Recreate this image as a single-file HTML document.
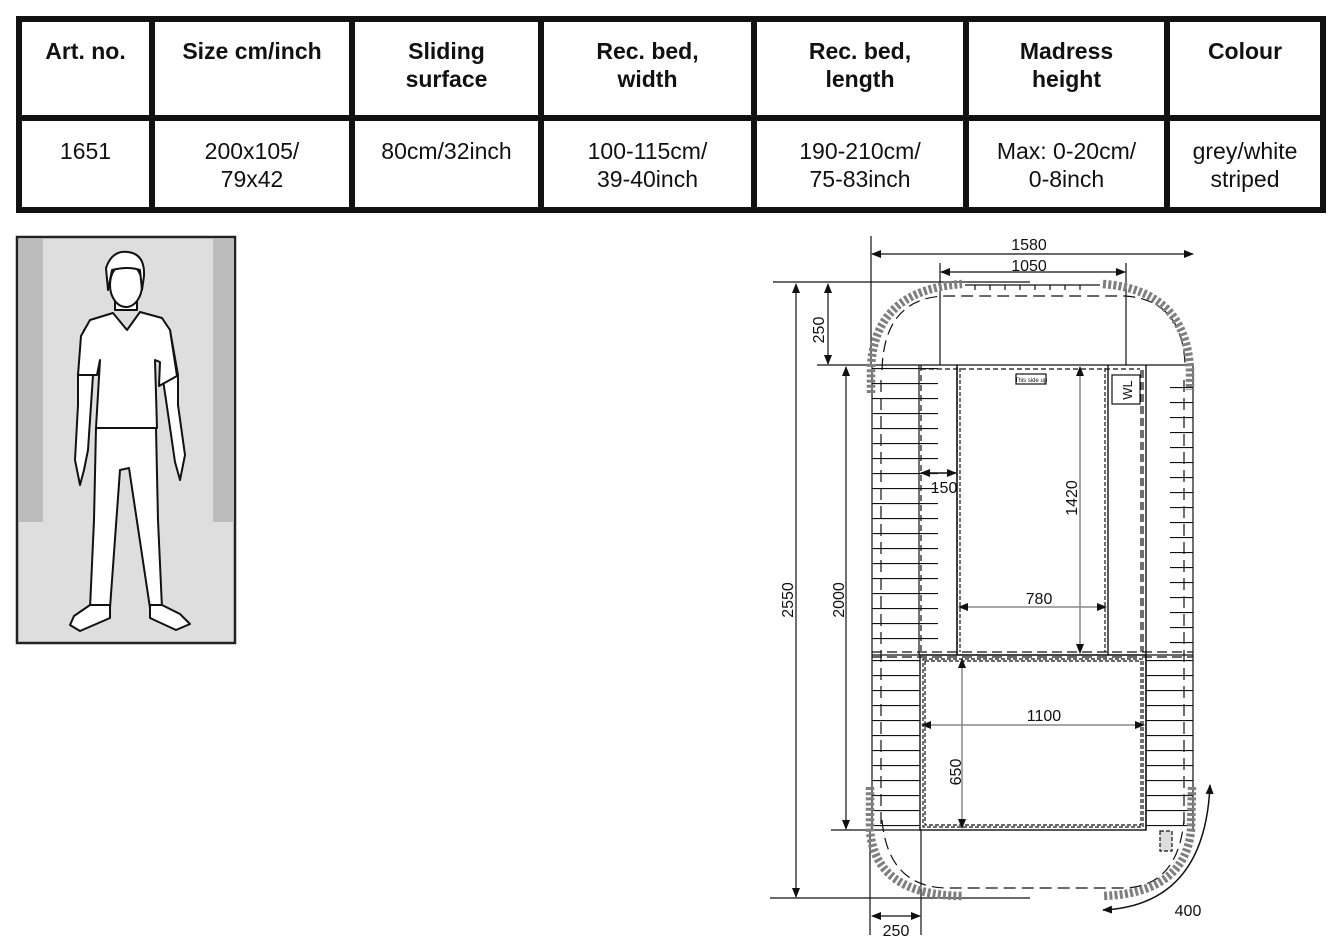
<!DOCTYPE html>
<html><head><meta charset="utf-8"><style>
html,body{margin:0;padding:0;background:#fff;}
body{width:1343px;height:948px;position:relative;overflow:hidden;font-family:"Liberation Sans",Arial,sans-serif;}
.b{position:absolute;background:#111;}
.c{position:absolute;text-align:center;font-size:23px;line-height:28px;color:#111;}
.h{font-weight:bold;}
</style></head><body>
<div class="b" style="left:16px;top:16px;width:1310px;height:6px"></div>
<div class="b" style="left:16px;top:115px;width:1310px;height:6px"></div>
<div class="b" style="left:16px;top:207px;width:1310px;height:6px"></div>
<div class="b" style="left:16px;top:16px;width:6px;height:197px"></div>
<div class="b" style="left:1320px;top:16px;width:6px;height:197px"></div>
<div class="b" style="left:149px;top:16px;width:6px;height:197px"></div>
<div class="b" style="left:349px;top:16px;width:6px;height:197px"></div>
<div class="b" style="left:538px;top:16px;width:6px;height:197px"></div>
<div class="b" style="left:751px;top:16px;width:6px;height:197px"></div>
<div class="b" style="left:963px;top:16px;width:6px;height:197px"></div>
<div class="b" style="left:1164px;top:16px;width:6px;height:197px"></div>

<div class="c h" style="left:22px;width:127px;top:37px">Art. no.</div>
<div class="c h" style="left:155px;width:194px;top:37px">Size cm/inch</div>
<div class="c h" style="left:355px;width:183px;top:37px">Sliding<br>surface</div>
<div class="c h" style="left:544px;width:207px;top:37px">Rec. bed,<br>width</div>
<div class="c h" style="left:757px;width:206px;top:37px">Rec. bed,<br>length</div>
<div class="c h" style="left:969px;width:195px;top:37px">Madress<br>height</div>
<div class="c h" style="left:1170px;width:150px;top:37px">Colour</div>

<div class="c" style="left:22px;width:127px;top:137px">1651</div>
<div class="c" style="left:155px;width:194px;top:137px">200x105/<br>79x42</div>
<div class="c" style="left:355px;width:183px;top:137px">80cm/32inch</div>
<div class="c" style="left:544px;width:207px;top:137px">100-115cm/<br>39-40inch</div>
<div class="c" style="left:757px;width:206px;top:137px">190-210cm/<br>75-83inch</div>
<div class="c" style="left:969px;width:195px;top:137px">Max: 0-20cm/<br>0-8inch</div>
<div class="c" style="left:1170px;width:150px;top:137px">grey/white<br>striped</div>

<svg width="1343" height="948" style="position:absolute;left:0;top:0" xmlns="http://www.w3.org/2000/svg">
<defs>
<marker id="a" markerWidth="10" markerHeight="8" refX="9" refY="4" orient="auto-start-reverse" markerUnits="userSpaceOnUse"><path d="M0,0 L10,4 L0,8 z" fill="#111"/></marker>
<pattern id="hl" width="200" height="15" patternUnits="userSpaceOnUse" y="368"><line x1="0" y1="0.5" x2="200" y2="0.5" stroke="#111" stroke-width="1.3"/></pattern>
<pattern id="hl2" width="200" height="15" patternUnits="userSpaceOnUse" y="660"><line x1="0" y1="0.5" x2="200" y2="0.5" stroke="#111" stroke-width="1.3"/></pattern>
</defs>
<rect x="17" y="237" width="218" height="406" fill="#dedede" stroke="#222" stroke-width="2.5"/>
<rect x="19" y="239" width="24" height="283" fill="#bcbcbc"/>
<rect x="213" y="239" width="21" height="283" fill="#bcbcbc"/>
<g fill="#fff" stroke="#111" stroke-width="2" stroke-linejoin="round">
<path d="M115,310 L115,300 L137,300 L137,310 Z"/>
<path d="M96,428 L156,428 L158,520 L162,608 L150,608 L129,468 L120,470 L110,608 L90,608 L94,520 Z"/>
<path d="M90,605 L110,605 L110,618 L80,631 L70,625 L74,616 Z"/>
<path d="M150,605 L162,605 L180,614 L190,624 L176,630 L150,618 Z"/>
<path d="M84,330 L78,375 L78,405 L75,460 L80,485 L84,470 L88,450 L93,375 Z"/>
<path d="M170,330 L178,375 L178,405 L185,455 L180,480 L175,462 L166,400 L160,360 Z"/>
<path d="M113,313 L90,320 L81,336 L78,375 L97,375 L100,360 L96,428 L157,428 L155,360 L160,362 L159,386 L177,376 L170,330 L162,318 L140,312 L127,330 Z"/>
<ellipse cx="126" cy="285" rx="16" ry="22"/>
<path d="M108,290 L106,268 Q112,250 128,252 Q145,254 144,276 L142,290 L140,270 Q128,266 112,270 Z"/>
</g>

<g stroke="#111" fill="none" stroke-width="1.2">
<line x1="871" y1="236" x2="871" y2="365"/>
<line x1="872" y1="254" x2="1193" y2="254" marker-start="url(#a)" marker-end="url(#a)"/>
<line x1="940" y1="263" x2="940" y2="365"/>
<line x1="1126" y1="263" x2="1126" y2="365"/>
<line x1="941" y1="272" x2="1125" y2="272" marker-start="url(#a)" marker-end="url(#a)"/>
<line x1="773" y1="282" x2="1030" y2="282"/>
<line x1="817" y1="365" x2="1193" y2="365"/>
<line x1="828" y1="284" x2="828" y2="364" marker-start="url(#a)" marker-end="url(#a)"/>
<line x1="796" y1="284" x2="796" y2="897" marker-start="url(#a)" marker-end="url(#a)"/>
<line x1="846" y1="367" x2="846" y2="829" marker-start="url(#a)" marker-end="url(#a)"/>
<line x1="831" y1="830" x2="921" y2="830"/>
<line x1="770" y1="898" x2="1030" y2="898"/>
<line x1="870" y1="830" x2="870" y2="935"/>
<line x1="921" y1="830" x2="921" y2="935"/>
<line x1="872" y1="916" x2="920" y2="916" marker-start="url(#a)" marker-end="url(#a)"/>
<path d="M965,285 H1100 M975,285v5 M990,285v5 M1005,285v5 M1020,285v5 M1035,285v5 M1050,285v5 M1065,285v5 M1080,285v5"/>
<line x1="872" y1="365" x2="872" y2="830"/>
<line x1="1193" y1="365" x2="1193" y2="830"/>
<rect x="872" y="368" width="66" height="282" fill="url(#hl)" stroke="none"/>
<rect x="872" y="660" width="48" height="170" fill="url(#hl2)" stroke="none"/>
<rect x="1146" y="660" width="47" height="170" fill="url(#hl2)" stroke="none"/>
<rect x="1170" y="372" width="23" height="275" fill="url(#hl)" stroke="none" transform="translate(0,4)"/>
<line x1="919" y1="365" x2="919" y2="655"/>
<line x1="921" y1="365" x2="921" y2="655" stroke-dasharray="6 4"/>
<line x1="881" y1="380" x2="881" y2="830" stroke-dasharray="12 6"/>
<line x1="1184" y1="380" x2="1184" y2="830" stroke-dasharray="12 6"/>
<line x1="957" y1="365" x2="957" y2="655" stroke-width="1.6"/>
<line x1="960" y1="368" x2="960" y2="652" stroke-dasharray="4 2"/>
<line x1="1108" y1="365" x2="1108" y2="655" stroke-width="1.4"/>
<line x1="1105" y1="368" x2="1105" y2="652" stroke-dasharray="4 2"/>
<line x1="921" y1="369" x2="1140" y2="369" stroke-dasharray="5 3"/>
<line x1="1146" y1="365" x2="1146" y2="830" stroke-width="1.4"/>
<line x1="1141" y1="370" x2="1141" y2="652" stroke-dasharray="8 4"/>
<line x1="1143" y1="370" x2="1143" y2="652" stroke-dasharray="8 4"/>
<rect x="1112" y="375" width="28" height="29"/>
<rect x="1016" y="374" width="30" height="10"/>
<line x1="872" y1="652" x2="1193" y2="652" stroke-dasharray="10 5"/>
<line x1="872" y1="655" x2="1193" y2="655"/>
<line x1="872" y1="657" x2="1193" y2="657" stroke-dasharray="10 5"/>
<rect x="920" y="655" width="226" height="175" stroke-width="1.4"/>
<rect x="923" y="659" width="220" height="168" stroke-dasharray="4 2"/>
<rect x="925" y="661" width="216" height="164" stroke-dasharray="4 2"/>
<path d="M882,370 Q884,298 945,296 L1125,296 Q1183,300 1185,365" stroke-dasharray="12 6"/>
<path d="M882,820 Q888,886 945,888 L1125,888 Q1178,886 1184,820" stroke-dasharray="12 6"/>
<rect x="1160" y="831" width="12" height="20" fill="#ddd" stroke-dasharray="4 2"/>
</g>
<g stroke="#888" fill="none" stroke-width="1.5">
<line x1="921" y1="473" x2="956" y2="473" marker-start="url(#a)" marker-end="url(#a)" stroke="#111"/>
<line x1="1080" y1="367" x2="1080" y2="653" marker-start="url(#a)" marker-end="url(#a)"/>
<line x1="959" y1="607" x2="1106" y2="607" marker-start="url(#a)" marker-end="url(#a)"/>
<line x1="922" y1="725" x2="1144" y2="725" marker-start="url(#a)" marker-end="url(#a)"/>
<line x1="962" y1="659" x2="962" y2="828" marker-start="url(#a)" marker-end="url(#a)"/>
<path d="M1103,910 Q1205,905 1210,785" stroke="#111" marker-start="url(#a)" marker-end="url(#a)"/>
</g>
<g stroke="#7f7f7f" fill="none" stroke-width="8.5" stroke-dasharray="3 2.2">
<path d="M871,393 L871,368 Q874,290 962,284"/>
<path d="M1103,284 Q1186,290 1190,370 L1190,390"/>
<path d="M870,787 L870,830 Q875,895 962,896"/>
<path d="M1192,787 L1191,830 Q1185,893 1103,896"/>
</g>
<g font-family="Liberation Sans, Arial, sans-serif" font-size="16" fill="#111" text-anchor="middle">
<text x="1029" y="250">1580</text>
<text x="1029" y="271">1050</text>
<text x="944" y="493">150</text>
<text x="1039" y="604">780</text>
<text x="1044" y="721">1100</text>
<text x="896" y="936">250</text>
<text x="1188" y="916">400</text>
<text transform="translate(824,330) rotate(-90)">250</text>
<text transform="translate(793,600) rotate(-90)">2550</text>
<text transform="translate(844,600) rotate(-90)">2000</text>
<text transform="translate(1077,498) rotate(-90)">1420</text>
<text transform="translate(961,772) rotate(-90)">650</text>
<text transform="translate(1132,390) rotate(-90)" font-size="13">WL</text>
<text x="1031" y="382" font-size="6">This side up</text>
</g>
</svg>
</body></html>
